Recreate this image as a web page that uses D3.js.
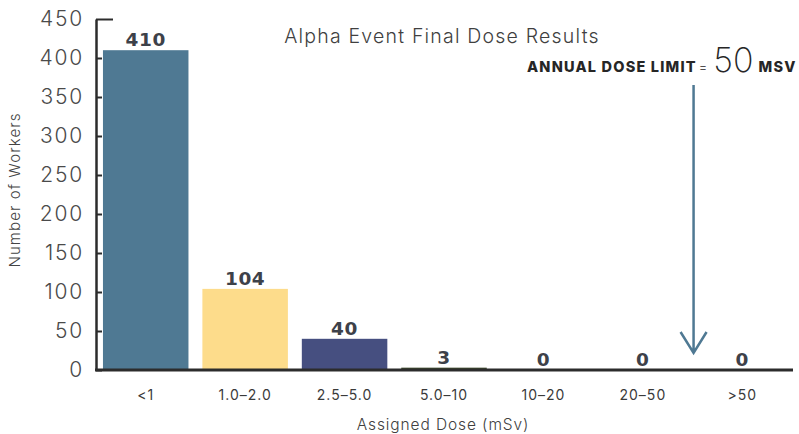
<!DOCTYPE html>
<html>
<head>
<meta charset="utf-8">
<script src="https://cdn.jsdelivr.net/npm/d3@7"></script>
<style>
  html, body { margin: 0; padding: 0; background: #fff; }
  svg { display: block; font-family: Inter, "Open Sans", sans-serif; }
</style>
</head>
<body>
<svg id="chart" width="799" height="434"></svg>
<script>
// Dose bins and worker counts
const categories = ["<1", "1.0\u20132.0", "2.5\u20135.0", "5.0\u201310", "10\u201320", "20\u201350", ">50"];
const workers = [410, 104, 40, 3, 0, 0, 0];
const barColors = ["#4f7993", "#fddc8b", "#464f80", "#3f4a2c", "#3f4a2c", "#3f4a2c", "#3f4a2c"];
const yTicks = [0, 50, 100, 150, 200, 250, 300, 350, 400, 450];
const doseLimit = 50;

const svg = d3.select("#chart");
const margin = { left: 96, right: 7, top: 19, bottom: 64 };
const W = 799, H = 434;

const x = d3.scaleBand()
  .domain(categories)
  .range([margin.left, W - margin.right])
  .paddingInner(0.14)
  .paddingOuter(0.07);

const y = d3.scaleLinear()
  .domain([0, 450])
  .range([H - margin.bottom, margin.top]);

// Bars
svg.append("g").selectAll("rect")
  .data(categories)
  .join("rect")
  .attr("x", d => x(d))
  .attr("width", x.bandwidth())
  .attr("y", (d, i) => y(workers[i]))
  .attr("height", (d, i) => y(0) - y(workers[i]))
  .attr("fill", (d, i) => barColors[i]);

// Value labels
svg.append("g").selectAll("text")
  .data(categories)
  .join("text")
  .attr("x", d => x(d) + x.bandwidth() / 2)
  .attr("y", (d, i) => y(workers[i]) - 4)
  .attr("text-anchor", "middle")
  .attr("font-family", "'DejaVu Sans', sans-serif")
  .attr("font-size", 18.5)
  .attr("font-weight", 700)
  .attr("letter-spacing", 0.6)
  .attr("fill", "#3d4149")
  .text((d, i) => workers[i]);

// Y axis
const yAxis = svg.append("g")
  .attr("transform", `translate(${margin.left},0)`)
  .call(d3.axisRight(y).tickValues(yTicks).tickSize(6).tickSizeOuter(0).tickFormat(d3.format("d")));
yAxis.select(".domain").attr("stroke", "#2c2c2c").attr("stroke-width", 2.5);
yAxis.selectAll(".tick line").attr("stroke", "#2c2c2c").attr("stroke-width", 2);
yAxis.selectAll(".tick text")
  .attr("x", -12)
  .attr("text-anchor", "end")
  .attr("font-size", 21)
  .attr("font-weight", 300)
  .attr("letter-spacing", 1.8)
  .attr("font-family", "Inter, sans-serif")
  .attr("fill", "#4a4a4a");
// Cap on the top of the y axis
yAxis.select(".tick:last-of-type line").attr("x2", 17);

// X axis
const xAxis = svg.append("g")
  .attr("transform", `translate(0,${y(0)})`)
  .call(d3.axisBottom(x).tickSize(0).tickPadding(20));
xAxis.select(".domain")
  .attr("d", `M${margin.left - 1},0H${W - 6}`)
  .attr("stroke", "#2c2c2c").attr("stroke-width", 3);
xAxis.selectAll(".tick text")
  .attr("font-size", 14)
  .attr("letter-spacing", 1)
  .attr("font-family", "Inter, sans-serif")
  .attr("fill", "#3a3a3a");

// Titles
svg.append("text")
  .attr("x", 442).attr("y", 43)
  .attr("text-anchor", "middle")
  .attr("font-size", 19.5)
  .attr("font-weight", 300)
  .attr("letter-spacing", 1.2)
  .attr("fill", "#404040")
  .text("Alpha Event Final Dose Results");

svg.append("text")
  .attr("transform", `translate(20,${190}) rotate(-90)`)
  .attr("text-anchor", "middle")
  .attr("font-size", 15)
  .attr("font-weight", 300)
  .attr("letter-spacing", 1.1)
  .attr("fill", "#444")
  .text("Number of Workers");

svg.append("text")
  .attr("x", 443).attr("y", 430)
  .attr("text-anchor", "middle")
  .attr("font-size", 15.5)
  .attr("font-weight", 300)
  .attr("letter-spacing", 0.9)
  .attr("fill", "#404040")
  .text("Assigned Dose (mSv)");

// Annual dose limit annotation
const arrowX = x("20\u201350") + x.bandwidth() + (x.step() - x.bandwidth()) / 2 + 1;
const note = svg.append("text")
  .attr("x", 527).attr("y", 72)
  .attr("fill", "#262626");
note.append("tspan").attr("font-size", 14.5).attr("font-weight", 800).attr("letter-spacing", 1.2).text("ANNUAL DOSE LIMIT");
note.append("tspan").attr("font-size", 13).attr("font-weight", 300).attr("letter-spacing", 0).attr("dx", 2).text("=");
note.append("tspan").attr("font-size", 34).attr("font-weight", 200).attr("dx", 6).text(doseLimit);
note.append("tspan").attr("font-size", 14.5).attr("font-weight", 800).attr("letter-spacing", 1.2).attr("dx", 5).text("MSV");

svg.append("path")
  .attr("d", `M${arrowX},85V353M${arrowX - 13},332L${arrowX},353L${arrowX + 13},332`)
  .attr("fill", "none")
  .attr("stroke", "#4f7993")
  .attr("stroke-width", 2.5);
</script>
</body>
</html>
